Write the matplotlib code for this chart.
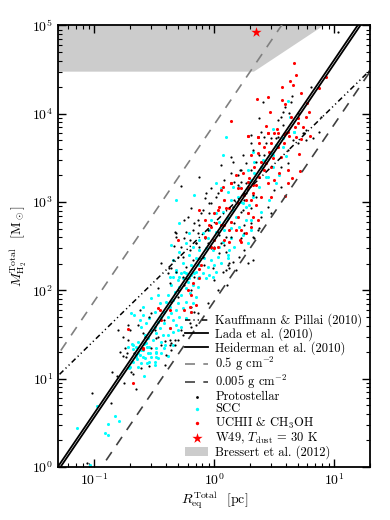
import numpy as np
import matplotlib
matplotlib.use('Agg')
import matplotlib.pyplot as plt
from matplotlib.patches import Patch

plt.rcParams['mathtext.fontset'] = 'cm'
plt.rcParams['font.family'] = 'serif'
plt.rcParams['font.serif'] = ['cmr10', 'DejaVu Serif']
plt.rcParams['axes.unicode_minus'] = False

# Пороговые соотношения масса-радиус
lada_sigma = 116.0          # Msun pc^-2
heiderman_sigma = 129.0     # Msun pc^-2
kauffmann_coef = 580.0      # Msun
kauffmann_index = 1.33
gcm2_values = [0.5, 0.005]  # g cm^-2
gcm2_to_msun_pc2 = 4788.0

# Область Bressert et al. (2012)
bressert_m = [3e4, 1e5]
bressert_r_max = [2.15, 8.2]

# W49
w49_r = [2.22]
w49_m = [8.4e4]

# SCC (log R [pc], log M [Msun])
scc_log_r = [-0.316, -0.275, -0.233, -0.191, -0.150, -0.122, -0.261, -0.219, -0.302, -0.344, -0.177, -0.136,
             -0.358, -0.289, -0.233, -0.330, -0.275, -0.205, -0.150, -0.386, -0.400, -0.344, -0.302, -0.233,
             -0.177, -0.372, -0.316, -0.261, -0.191, -0.414, -0.441, -0.386, -0.344, -0.289, -0.233, -0.469,
             -0.414, -0.316, -0.275, -0.497, -0.455, -0.372, -0.525, -0.483, -0.427, -0.552, -0.511, -0.441,
             -0.580, -0.539, -0.483, -0.594, -0.552, -0.622, -0.650, -0.580, -0.525, -0.677, -0.608, -0.469,
             -0.636, -0.691, -0.664, -0.622, -0.594, -0.566, -0.608, -0.539, -0.497, -0.455, -0.580, -0.636,
             -0.677, -0.719, -0.386, -0.344, -0.302, -0.483, -0.441, -0.414, -0.539, -0.497, -0.705, -0.358,
             -0.525, -0.469, -0.594,
             -0.164, -0.317, 0.017, 0.058, 0.114, 0.156, 0.197, 0.142, 0.239, 0.294, 0.017, 0.072,
             -0.025, 0.044, 0.114, 0.183, 0.267, 0.211, 0.142, 0.086, 0.017, -0.039, -0.094, -0.122,
             -0.053, 0.003, 0.072, 0.142, -0.233, -0.178, -0.122, -0.067, -0.011, 0.044, -0.289, -0.206,
             -0.150, -0.081, -0.025, 0.031, 0.114, -0.344, -0.261, -0.192, -0.122, -0.053, 0.003, 0.058,
             -0.317, -0.247, -0.164, -0.094, -0.039, 0.017, -0.372, -0.289, -0.206, -0.136, -0.067, -0.011,
             0.281, 0.239, 0.169, 0.308, -0.289, -0.206, -0.358,
             0.309, 0.336, 0.281, 0.392, 0.448, 0.475, 0.323, 0.073, 0.100,
             0.614, 0.636, 0.489, 0.669, 0.572,
             -1.145, -0.978, -0.909, -0.881, -0.881, -0.823, -0.792, -1.039, -0.684, -0.650, -0.673, -0.634,
             -0.606, -0.586, -0.567, -0.561, -0.534, -0.486, -0.484, -0.492, -0.595, -0.650, -0.645, -0.711,
             -0.586, -0.559, -0.381, -0.411, -0.345,
             0.122, 0.114, 0.308, 0.392, 0.456, 0.517, 0.544, 0.600, 0.669, 0.294, 0.211, 0.225,
             0.156, 0.267, 0.322, 0.378, 0.433, 0.336, 0.406, 0.489, 0.517, 0.572, 0.489]
scc_log_m = [2.212, 2.193, 2.201, 2.174, 2.212, 2.156, 2.137, 2.099, 2.118, 2.156, 2.061, 2.042,
             2.061, 2.042, 2.023, 1.986, 1.948, 1.967, 1.929, 1.948, 1.873, 1.891, 1.854, 1.873,
             1.854, 1.816, 1.778, 1.797, 1.759, 1.759, 1.703, 1.703, 1.665, 1.703, 1.684, 1.646,
             1.627, 1.608, 1.589, 1.589, 1.571, 1.571, 1.552, 1.514, 1.495, 1.457, 1.439, 1.420,
             1.401, 1.363, 1.344, 1.325, 1.288, 1.269, 1.250, 1.231, 1.242, 1.193, 1.174, 1.231,
             1.137, 1.740, 1.722, 1.665, 1.722, 1.627, 1.589, 1.684, 1.759, 1.854, 1.495, 1.420,
             1.382, 1.363, 1.495, 1.533, 1.552, 1.306, 1.295, 1.344, 1.193, 1.156, 1.137, 1.740,
             1.910, 1.948, 1.816,
             3.080, 3.024, 3.212, 3.156, 3.118, 3.175, 3.061, 3.024, 2.986, 2.967, 2.873, 2.892,
             2.797, 2.778, 2.816, 2.835, 2.797, 2.722, 2.703, 2.684, 2.665, 2.684, 2.646, 2.571,
             2.590, 2.571, 2.552, 2.590, 2.533, 2.495, 2.458, 2.476, 2.458, 2.495, 2.439, 2.401,
             2.363, 2.363, 2.344, 2.382, 2.401, 2.344, 2.307, 2.288, 2.288, 2.269, 2.288, 2.307,
             2.231, 2.212, 2.193, 2.193, 2.174, 2.212, 2.156, 2.156, 2.137, 2.137, 2.137, 2.156,
             2.533, 2.627, 2.495, 2.684, 2.759, 2.646, 2.514,
             3.250, 3.325, 3.363, 3.401, 3.288, 3.552, 3.571, 3.533, 3.741,
             4.149, 3.968, 3.828, 3.798, 3.723,
             0.438, 0.691, 0.381, 0.366, 0.483, 0.578, 0.521, 0.020, 1.393, 1.363, 1.332, 1.295,
             1.325, 1.393, 1.408, 1.363, 1.287, 1.295, 1.242, 1.193, 1.242, 1.268, 1.219, 1.117,
             1.030, 1.174, 1.261, 1.385, 1.385,
             2.458, 2.363, 2.797, 2.891, 3.024, 3.220, 3.307, 3.522, 3.797, 3.231, 3.175, 3.005,
             2.910, 2.948, 3.061, 3.175, 3.288, 3.458, 3.476, 3.533, 3.646, 3.627, 3.401]

# Protostellar
proto_log_r = [0.059, 0.156, 0.212, 0.142, 0.225, 0.309, 0.350, 0.420, 0.475, 0.531, 0.559, 0.503,
               0.559, 0.448, 0.475, 0.392, 0.309, 0.239, 0.170, 0.086, 0.017, -0.025, -0.080, -0.108,
               -0.191, -0.164, -0.233, -0.205, -0.136, -0.053, 0.031, 0.170, 0.142, 0.253, 0.364, -0.275,
               -0.122, 0.003, 0.086, 0.336, 0.614, 0.392, 0.309, 0.239, -0.025, 0.253, 0.350, -0.247, 0.142,
               0.808, 0.647, 0.641, 0.594, 0.627, 0.558, 0.536, 0.377, 0.405, 0.572, 0.739, 0.766, 0.891,
               0.702, 0.516, 0.419, 0.572, 0.822, 0.877, 0.655, 1.030,
               -1.020, -0.850, -0.814, -0.750, -0.692, -0.678, -0.648, -0.856, -0.761, -0.723, -0.545, -0.406,
               -0.359, -0.325, -1.061, -0.409,
               -0.441, -0.344, -0.316, -0.261, -0.205, -0.150, -0.080, -0.025, 0.059, 0.100, -0.122, -0.233,
               -0.164, -0.302, -0.358, -0.191, -0.136, -0.052, 0.031, 0.100, 0.128, 0.003, -0.414, -0.497,
               -0.580, -0.469, -0.372, -0.719, -0.747, -0.539, -0.622, -0.275, -0.191, -0.302, -0.705, -0.636,
               -0.802, -0.316, -0.330,
               0.378, 0.225, 0.253, 0.114, 0.106,
               0.308, 0.364, 0.433, 0.322, 0.378, 0.267, 0.225, 0.169, 0.197, 0.142, 0.267, 0.697, 0.753,
               0.767, 0.614,
               -0.125, -0.275, -0.333, -0.375,
               -0.469, -0.719, -0.761, -0.733, -0.664, -0.525, -0.441, -0.372, -0.330, -0.261, -0.205, -0.164,
               -0.150, -0.302, -0.372, -0.247, -0.191, -0.525, -0.594, -0.483, -0.400, -0.358, -0.608, -0.789,
               -0.317, -0.247, -0.178, -0.136, -0.094, -0.039, -0.067, 0.031, 0.086, 0.156, 0.225, 0.281,
               0.322, 0.267, 0.197, 0.308, 0.322, 0.253, 0.211, 0.156, 0.128, 0.183, 0.072, 0.100,
               -0.094, -0.178, -0.233, -0.303, -0.358, -0.386, -0.261, -0.081, -0.011, 0.044, -0.053, -0.150,
               0.281, 0.322, -0.122, -0.219, 0.044, -0.039]
proto_log_m = [3.420, 3.457, 3.363, 3.325, 3.231, 3.363, 3.457, 3.533, 3.722, 3.741, 3.401, 3.137,
               3.174, 2.948, 2.873, 2.835, 2.929, 2.910, 3.024, 3.250, 3.061, 3.156, 3.042, 2.873,
               2.929, 2.759, 2.665, 2.571, 2.646, 2.684, 2.665, 2.759, 2.608, 2.741, 2.684, 2.495,
               2.495, 2.495, 2.514, 2.590, 3.590, 3.797, 3.665, 3.533, 2.986, 3.024, 3.061, 2.797, 2.778,
               4.307, 4.202, 4.138, 4.081, 4.006, 3.968, 3.930, 3.949, 4.138, 4.024, 3.779, 3.817, 3.968,
               4.013, 3.723, 3.741, 3.873, 3.723, 3.798, 3.704, 4.930,
               0.842, 1.072, 1.034, 0.947, 1.080, 1.049, 0.883, 0.729, 1.257, 1.287, 1.144, 1.155,
               1.400, 1.385, 0.042, 1.430,
               2.307, 2.344, 2.212, 2.382, 2.458, 2.533, 2.590, 2.476, 2.533, 2.609, 2.363, 2.137,
               2.156, 1.929, 1.873, 1.816, 1.741, 1.854, 2.005, 2.231, 2.307, 2.118, 1.665, 1.552,
               1.476, 1.476, 1.439, 1.439, 1.344, 1.703, 1.778, 1.552, 1.590, 1.439, 1.552, 1.608,
               1.552, 2.609, 2.665,
               2.703, 2.590, 2.646, 2.288, 2.061,
               3.759, 3.741, 3.665, 3.590, 3.533, 3.439, 3.363, 3.231, 3.307, 3.514, 3.212, 3.665, 3.778,
               3.703, 3.439,
               3.284, 3.182, 2.503, 2.254,
               2.023, 1.608, 1.476, 1.250, 1.288, 1.344, 1.382, 1.382, 1.439, 1.495, 1.627, 1.759,
               1.608, 2.005, 2.080, 2.061, 2.005, 1.740, 1.514, 1.457, 1.269, 1.325, 1.118, 1.306,
               2.646, 2.590, 2.684, 2.797, 2.910, 2.986, 3.099, 3.099, 3.024, 2.948, 2.892, 2.873,
               3.080, 3.099, 3.193, 2.759, 2.608, 2.458, 2.382, 2.325, 2.250, 2.231, 2.212, 2.439,
               2.382, 2.344, 2.269, 2.382, 2.250, 2.193, 2.156, 2.288, 2.250, 2.420, 2.533, 2.533,
               2.307, 2.344, 2.741, 2.835, 2.627, 2.873]

# UCHII & CH3OH
uchii_log_r = [0.281, 0.370, 0.448, 0.531, 0.600, 0.475, 0.420, 0.364, 0.461, 0.531, 0.309, 0.392,
               0.434, 0.489, 0.559, 0.336, 0.420, 0.475, 0.545, 0.378, 0.295, 0.239, 0.184, 0.142,
               0.198, 0.281, 0.350, 0.448, 0.503, 0.323, 0.392, 0.475, 0.267, 0.350, 0.059, 0.086,
               0.031, -0.122, -0.080, 0.003, 0.128, 0.198, 0.281, 0.364, -0.025, 0.059, 0.128, 0.225,
               0.309, -0.080, 0.003, 0.086, 0.212, -0.302, 0.614, 0.614, 0.378, 0.586,
               0.669, 0.683, 0.636, 0.655, 0.566, 0.725, 0.358, 0.447, 0.566, 0.594, 0.775, 0.469,
               0.141, 0.641, 0.697, 0.766, 0.794, 0.933, 0.877, 0.702, 0.675, 0.739, 0.433, 0.525,
               0.280, 0.586, 0.627, 0.683, 0.502, 0.447, 0.364, 0.725, 0.613,
               -0.025, 0.031, -0.108, -0.122, -0.177, -0.247, -0.191, -0.205, -0.455, -0.719, -0.372, -0.441,
               -0.675, -0.595,
               0.711, 0.717, 0.650, 0.594, 0.800,
               -0.469, -0.372, -0.150, -0.191, -0.219, -0.594,
               0.072, 0.142, 0.225, 0.281, 0.322, 0.253, 0.308, 0.197, 0.044, 0.100, -0.039, 0.017,
               0.086, 0.142, 0.183, 0.128, 0.225, 0.267, -0.122, 0.322, 0.003]
uchii_log_m = [3.748, 3.733, 3.778, 3.786, 3.778, 3.665, 3.627, 3.552, 3.571, 3.627, 3.533, 3.457,
               3.439, 3.495, 3.514, 3.401, 3.363, 3.401, 3.325, 3.288, 3.269, 3.325, 3.307, 3.212,
               3.156, 3.174, 3.193, 3.212, 3.250, 3.099, 3.061, 3.061, 3.024, 2.967, 3.137, 3.024,
               2.910, 2.910, 2.797, 2.873, 2.929, 2.835, 2.873, 2.797, 2.722, 2.741, 2.684, 2.684,
               2.722, 2.608, 2.571, 2.571, 2.571, 2.571, 3.212, 3.363, 3.665, 3.665,
               4.572, 4.440, 4.375, 4.326, 4.300, 4.240, 4.168, 4.187, 4.157, 4.111, 4.126, 4.024,
               3.923, 3.960, 3.949, 3.960, 4.024, 4.413, 4.289, 3.892, 3.855, 3.847, 3.862, 3.824,
               3.749, 3.772, 3.749, 3.734, 3.779, 3.779, 3.734, 3.711, 3.798,
               2.495, 2.495, 2.288, 2.239, 2.080, 1.778, 1.759, 1.816, 1.778, 1.563, 1.571, 1.665,
               0.955, 1.332,
               3.544, 3.356, 3.276, 3.073, 3.748,
               1.797, 1.778, 1.835, 1.948, 2.005, 1.344,
               3.175, 3.212, 3.156, 3.231, 3.193, 3.080, 3.024, 2.986, 2.948, 2.929, 2.741, 2.759,
               2.741, 2.778, 2.684, 2.552, 2.552, 2.646, 2.137, 2.835, 2.476]

fig = plt.figure(figsize=(3.9, 5.2), dpi=100)
ax = fig.add_axes([0.149, 0.102, 0.8, 0.849])

xlim = (0.05, 20.0)
ylim = (1.0, 1e5)
r_line = np.array([0.01, 100.0])

# Bressert et al. (2012)
ax.fill([1e-3, bressert_r_max[0], bressert_r_max[1], 1e-3],
        [bressert_m[0], bressert_m[0], bressert_m[1], bressert_m[1]],
        color='#cccccc', lw=0, zorder=0)

ax.scatter(10 ** np.array(scc_log_r), 10 ** np.array(scc_log_m), s=5, c='cyan', lw=0, zorder=2)
ax.scatter(10 ** np.array(proto_log_r), 10 ** np.array(proto_log_m), s=2.5, c='k', lw=0, zorder=3)
ax.scatter(10 ** np.array(uchii_log_r), 10 ** np.array(uchii_log_m), s=5, c='red', lw=0, zorder=3)

l_kp, = ax.plot(r_line, kauffmann_coef * r_line ** kauffmann_index, color='k', lw=1.1,
                ls=(0, (3.5, 2, 0.8, 2, 0.8, 2)), zorder=4)
l_lada, = ax.plot(r_line, lada_sigma * np.pi * r_line ** 2, color='k', lw=1.3, zorder=4)
l_heid, = ax.plot(r_line, heiderman_sigma * np.pi * r_line ** 2, color='k', lw=1.3, zorder=4)
l_hi, = ax.plot(r_line, gcm2_values[0] * gcm2_to_msun_pc2 * np.pi * r_line ** 2, color='0.5',
                lw=1.2, ls=(0, (6, 5)), zorder=4)
l_lo, = ax.plot(r_line, gcm2_values[1] * gcm2_to_msun_pc2 * np.pi * r_line ** 2, color='0.25',
                lw=1.2, ls=(0, (6, 5)), zorder=4)

s_star = ax.scatter(w49_r, w49_m, marker='*', s=60, c='red', lw=0, zorder=5)

ax.set_xscale('log')
ax.set_yscale('log')
ax.set_xlim(xlim)
ax.set_ylim(ylim)

ax.tick_params(which='both', direction='in', top=True, right=True, labelsize=10)
ax.tick_params(which='major', length=6, width=1)
ax.tick_params(which='minor', length=3, width=0.8)
for sp in ax.spines.values():
    sp.set_linewidth(1.3)

ax.set_xlabel(r'$R_{\rm eq}^{\rm Total}$  [pc]', fontsize=10, labelpad=1)
ax.set_ylabel(r'$M_{\rm H_2}^{\rm Total}$  [M$_\odot$]', fontsize=10, labelpad=2)

h_proto = ax.scatter([], [], s=4, c='k', lw=0)
h_scc = ax.scatter([], [], s=6, c='cyan', lw=0)
h_uchii = ax.scatter([], [], s=6, c='red', lw=0)
h_bres = Patch(facecolor='#cccccc', edgecolor='none')

handles = [l_kp, l_lada, l_heid, l_hi, l_lo, h_proto, h_scc, h_uchii, s_star, h_bres]
labels = ['Kauffmann & Pillai (2010)',
          'Lada et al. (2010)',
          'Heiderman et al. (2010)',
          r'0.5 g cm$^{-2}$',
          r'0.005 g cm$^{-2}$',
          'Protostellar',
          'SCC',
          r'UCHII & CH$_3$OH',
          r'W49, $T_{\rm dust}$ = 30 K',
          'Bressert et al. (2012)']
ax.legend(handles, labels, loc='lower right', frameon=False, fontsize=9, scatterpoints=1,
          handlelength=1.8, handletextpad=0.6, labelspacing=0.0, borderaxespad=0.2)

plt.savefig('out.png', dpi=100)
